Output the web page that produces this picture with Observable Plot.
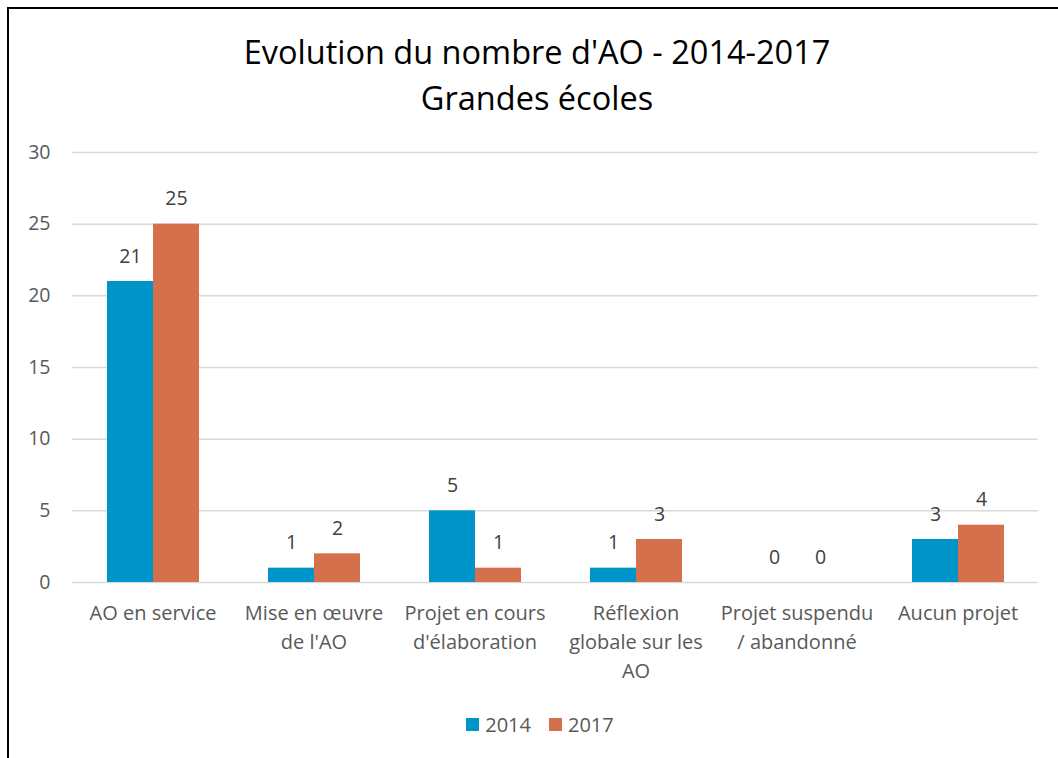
<!DOCTYPE html>
<html>
<head>
<meta charset="utf-8">
<script src="https://cdn.jsdelivr.net/npm/d3@7"></script>
<script src="https://cdn.jsdelivr.net/npm/@observablehq/plot@0.6"></script>
<style>
  html, body { margin: 0; padding: 0; background: #fff; }
  #wrap { position: relative; width: 1058px; height: 758px; overflow: hidden; font-family: "Open Sans", Lato, sans-serif; }
  #frame { position: absolute; left: 7px; top: 7px; width: 2000px; height: 2000px; border-left: 2px solid #000; border-top: 2px solid #000; }
  #title { position: absolute; left: 0; width: 1074px; top: 29px; text-align: center; font-size: 32.5px; line-height: 46px; color: #000; }
  #chart { position: absolute; left: 0; top: 130px; }
  #legend { position: absolute; left: 0; width: 1080px; top: 710px; text-align: center; font-size: 20px; color: #595959; }
  .item { display: inline-flex; align-items: center; margin: 0 9px; }
  .sw { display: inline-block; width: 13px; height: 13px; margin-right: 6px; }
</style>
</head>
<body>
<div id="wrap">
  <div id="frame"></div>
  <div id="title">Evolution du nombre d'AO - 2014-2017<br>Grandes écoles</div>
  <div id="chart"></div>
  <div id="legend"></div>
</div>
<script>
const categories = [
  "AO en service",
  "Mise en œuvre\nde l'AO",
  "Projet en cours\nd'élaboration",
  "Réflexion\nglobale sur les\nAO",
  "Projet suspendu\n/ abandonné",
  "Aucun projet"
];
const years = ["2014", "2017"];
const values2014 = [21, 1, 5, 1, 0, 3];
const values2017 = [25, 2, 1, 3, 0, 4];
const yTicks = [0, 5, 10, 15, 20, 25, 30];
const colors = ["#0095C8", "#D4704B"];

const data = [];
categories.forEach((c, i) => {
  data.push({category: c, year: years[0], value: values2014[i]});
  data.push({category: c, year: years[1], value: values2017[i]});
});

const chart = Plot.plot({
  width: 1058,
  height: 570,
  marginLeft: 71,
  marginRight: 20,
  marginTop: 22,
  marginBottom: 118,
  style: {fontFamily: "'Open Sans', Lato, sans-serif", background: "transparent"},
  fx: {domain: categories, padding: 0, label: null},
  x: {domain: years, paddingInner: 0, paddingOuter: 0.745, axis: null},
  y: {domain: [0, 30], label: null},
  color: {domain: years, range: colors},
  marks: [
    Plot.gridY(yTicks, {stroke: "#d9d9d9", strokeOpacity: 1, strokeWidth: 1.5}),
    Plot.axisY(yTicks, {tickSize: 0, tickPadding: 22, fontSize: 19.5, fill: "#595959", label: null}),
    Plot.axisFx({anchor: "bottom", tickSize: 0, tickPadding: 17, fontSize: 20, fill: "#595959", lineHeight: 1.45, label: null}),
    Plot.barY(data, {fx: "category", x: "year", y: "value", fill: "year", inset: 0}),
    Plot.text(data, {fx: "category", x: "year", y: "value", text: d => String(d.value), dy: -25, fontSize: 19.5, fill: "#404040"})
  ]
});
document.getElementById("chart").appendChild(chart);

const legend = document.getElementById("legend");
years.forEach((y, i) => {
  const item = document.createElement("span");
  item.className = "item";
  const sw = document.createElement("span");
  sw.className = "sw";
  sw.style.background = colors[i];
  item.appendChild(sw);
  item.appendChild(document.createTextNode(y));
  legend.appendChild(item);
});
</script>
</body>
</html>
